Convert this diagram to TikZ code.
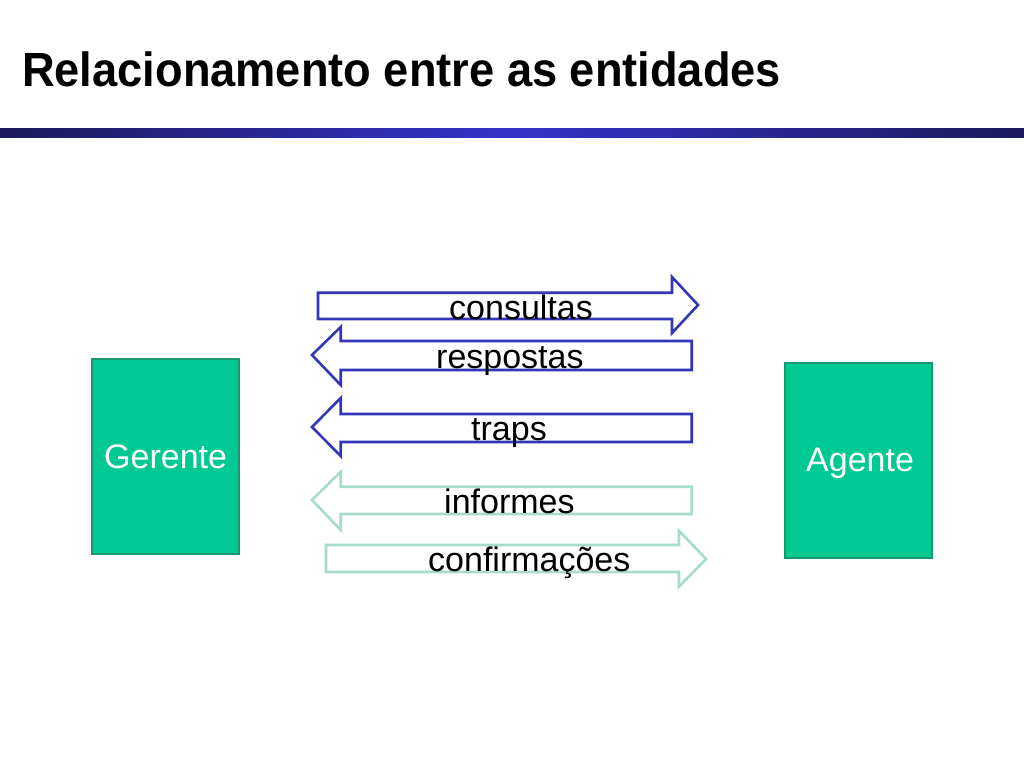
\documentclass[tikz,border=0pt]{standalone}
\usepackage{fontspec}
\setmainfont{Liberation Sans}
\begin{document}
\begin{tikzpicture}[x=1pt,y=-1pt,
  bluearrow/.style={draw=arrowblue,line width=2.6pt,fill=white,line join=miter},
  greenarrow/.style={draw=arrowgreen,line width=2.6pt,fill=white,line join=miter},
  entity/.style={draw=boxborder,line width=2pt,fill=boxfill,minimum width=147pt,minimum height=195pt,inner sep=0pt},
  lbl/.style={anchor=base west,inner sep=0pt,font=\fontsize{34}{40}\selectfont},
  wlbl/.style={lbl,text=white}]
\definecolor{arrowblue}{HTML}{3535B8}
\definecolor{arrowgreen}{HTML}{A6DCC9}
\definecolor{boxfill}{HTML}{00C994}
\definecolor{boxborder}{HTML}{17986F}
\definecolor{navy}{HTML}{1C1A5C}
\definecolor{barblue}{HTML}{3434CC}
\useasboundingbox (0,0) rectangle (1024,768);
\fill[white] (0,0) rectangle (1024,768);
% title
\node[anchor=base west,inner sep=0pt,font=\fontsize{48}{56}\selectfont\bfseries] (title) at (22,86) {\scalebox{0.942}[1]{Relacionamento entre as entidades}};
% bar
\shade[left color=navy,right color=navy,middle color=barblue] (0,128) rectangle (1024,137);
% boxes
\node[entity] (ger) at (165.3,456.5) {};
\node[entity] (age) at (858.3,460) {};
\node[wlbl] (gertxt) at (104,468) {Gerente};
\node[wlbl] (agetxt) at (806,471.7) {Agente};
% arrows
\draw[bluearrow] (318,292.7) -- (672,292.7) -- (672,277) -- (698,305) -- (672,333) -- (672,319) -- (318,319) -- cycle;
\draw[bluearrow] (691.7,341) -- (340.7,341) -- (340.7,327) -- (312,355) -- (340.7,385) -- (340.7,370) -- (691.7,370) -- cycle;
\draw[bluearrow] (691.7,414) -- (340.7,414) -- (340.7,398) -- (312,427) -- (340.7,456) -- (340.7,442) -- (691.7,442) -- cycle;
\draw[greenarrow] (691.7,486.7) -- (340.7,486.7) -- (340.7,471.7) -- (312,500) -- (340.7,530) -- (340.7,514) -- (691.7,514) -- cycle;
\draw[greenarrow] (326,545) -- (679,545) -- (679,530.7) -- (706,559) -- (679,586.7) -- (679,572) -- (326,572) -- cycle;
% labels
\node[lbl] (consultas) at (449,319) {consultas};
\node[lbl] (respostas) at (436,368) {respostas};
\node[lbl] (traps) at (471,440) {traps};
\node[lbl] (informes) at (444,513) {informes};
\node[lbl] (confirm) at (428,571.7) {confirmações};
\end{tikzpicture}
\end{document}
